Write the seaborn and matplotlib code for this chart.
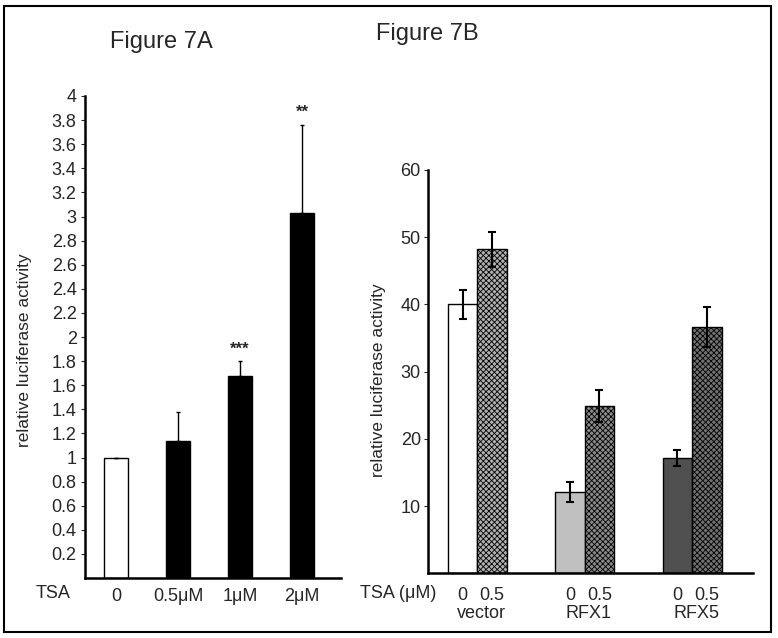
import numpy as np
import pandas as pd
import matplotlib
matplotlib.use("Agg")
import matplotlib.pyplot as plt
from matplotlib.patches import Rectangle
from matplotlib.transforms import ScaledTranslation
import seaborn as sns

# ---------------------------------------------------------------------------
# Data
# ---------------------------------------------------------------------------
# Figure 7A: TSA dose response
dose_labels = ["0", "0.5\u03bcM", "1\u03bcM", "2\u03bcM"]
dose_activity = [1.0, 1.14, 1.68, 3.03]
dose_err = [0.0, 0.24, 0.12, 0.73]
dose_stars = ["", "", "***", "**"]

# Figure 7B: vector / RFX1 / RFX5, with and without 0.5 uM TSA
constructs = ["vector", "RFX1", "RFX5"]
tsa_levels = ["0", "0.5"]
activity_tsa0 = [40.0, 12.1, 17.2]
activity_tsa05 = [48.2, 24.9, 36.6]
err_tsa0 = [2.1, 1.5, 1.2]
err_tsa05 = [2.6, 2.4, 3.0]

dfa = pd.DataFrame({"dose": dose_labels, "activity": dose_activity})
dfb = pd.DataFrame({
    "construct": constructs * 2,
    "tsa": [tsa_levels[0]] * 3 + [tsa_levels[1]] * 3,
    "activity": activity_tsa0 + activity_tsa05,
    "err": err_tsa0 + err_tsa05,
})

# styles
a_colors = ["white", "black", "black", "black"]
b_face = {("vector", "0"): "white", ("vector", "0.5"): "#b0b0b0",
          ("RFX1", "0"): "#c0c0c0", ("RFX1", "0.5"): "#8a8a8a",
          ("RFX5", "0"): "#505050", ("RFX5", "0.5"): "#727272"}

sns.set_style("white")
plt.rcParams["font.family"] = ["Liberation Sans", "DejaVu Sans"]
plt.rcParams["hatch.linewidth"] = 0.6
plt.rcParams["hatch.color"] = "#202020"

W, H = 778, 638
fig = plt.figure(figsize=(W / 100, H / 100), dpi=100)

# ---------------------------------------------------------------------------
# Panel A
# ---------------------------------------------------------------------------
axa = fig.add_axes([85 / W, 1 - 578 / H, 256 / W, 482 / H])
sns.barplot(data=dfa, x="dose", y="activity", order=dose_labels, ax=axa,
            width=0.4, errorbar=None, color="black", edgecolor="black", linewidth=1)
for bar, fc in zip(axa.containers[0], a_colors):
    bar.set_facecolor(fc)
xa = [b.get_x() + b.get_width() / 2 for b in axa.containers[0]]
axa.errorbar(xa, dose_activity, yerr=[np.zeros(len(dose_err)), dose_err],
             fmt="none", ecolor="black", elinewidth=1, capsize=1.2, capthick=1)
for x, v, e, s in zip(xa, dose_activity, dose_err, dose_stars):
    if s:
        axa.text(x, v + e + 0.04, s, ha="center", va="bottom", fontsize=12,
                 fontweight="bold")
yt_a = np.round(np.arange(0.2, 4.01, 0.2), 1)
axa.set_ylim(0, 4)
axa.set_xlim(-0.5, 3.63)
axa.set_yticks(yt_a)
axa.set_yticklabels([f"{t:g}" for t in yt_a])
axa.tick_params(axis="y", length=3, width=0.8, pad=3, labelsize=13, left=True)
axa.tick_params(axis="x", length=0, pad=7, labelsize=13)
axa.set_xlabel("")
axa.set_ylabel("relative luciferase activity", fontsize=12.5)
axa.yaxis.set_label_coords(-0.207, 0.473)
for sp in ["top", "right"]:
    axa.spines[sp].set_visible(False)
for sp in ["left", "bottom"]:
    axa.spines[sp].set_linewidth(1.8)
    axa.spines[sp].set_color("black")

# ---------------------------------------------------------------------------
# Panel B
# ---------------------------------------------------------------------------
axb = fig.add_axes([427.7 / W, 1 - 573.3 / H, 325 / W, 403.3 / H])
sns.barplot(data=dfb, x="construct", y="activity", hue="tsa", order=constructs,
            hue_order=tsa_levels, ax=axb, width=0.55, errorbar=None,
            edgecolor="black", linewidth=1, legend=False)
tick_pos, tick_lab = [], []
for lvl, cont in zip(tsa_levels, axb.containers):
    sub = dfb[dfb["tsa"] == lvl].set_index("construct").loc[constructs]
    xs = []
    for bar, c in zip(cont, constructs):
        bar.set_facecolor(b_face[(c, lvl)])
        bar.set_edgecolor("black")
        if lvl == "0.5":
            bar.set_hatch("xxxxxx")
        xs.append(bar.get_x() + bar.get_width() / 2)
    axb.errorbar(xs, sub["activity"], yerr=sub["err"], fmt="none", ecolor="black",
                 elinewidth=1.5, capsize=2.9, capthick=1.5)
    tick_pos += xs
    tick_lab += [lvl] * len(xs)
axb.set_xticks(tick_pos)
axb.set_xticklabels(tick_lab)
# labels in the original sit a few pixels right of the bar centres
nudge = ScaledTranslation(4 / 100, 0, fig.dpi_scale_trans)
for lab in axb.get_xticklabels():
    lab.set_transform(lab.get_transform() + nudge)
for i, c in enumerate(constructs):
    axb.text(i, -0.1, c, transform=axb.get_xaxis_transform() + nudge,
             ha="center", va="center", fontsize=13)
axb.set_ylim(0, 60)
axb.set_xlim(-0.462, 2.565)
axb.set_yticks([10, 20, 30, 40, 50, 60])
axb.tick_params(axis="y", length=3, width=0.8, pad=2, labelsize=13, left=True)
axb.tick_params(axis="x", length=0, pad=10, labelsize=13)
axb.set_xlabel("")
axb.set_ylabel("relative luciferase activity", fontsize=12.5)
axb.yaxis.set_label_coords(-0.128, 0.479)
for sp in ["top", "right"]:
    axb.spines[sp].set_visible(False)
for sp in ["left", "bottom"]:
    axb.spines[sp].set_linewidth(1.8)
    axb.spines[sp].set_color("black")

# ---------------------------------------------------------------------------
# Titles, row labels and frame
# ---------------------------------------------------------------------------
fig.text(161 / W, 1 - 42 / H, "Figure 7A", ha="center", va="center", fontsize=17)
fig.text(427 / W, 1 - 34 / H, "Figure 7B", ha="center", va="center", fontsize=17)
fig.text(53 / W, 1 - 593 / H, "TSA", ha="center", va="center", fontsize=13)
fig.text(398 / W, 1 - 593 / H, "TSA (\u03bcM)", ha="center", va="center", fontsize=13)
fig.add_artist(Rectangle((4 / W, 1 - 632 / H), 767 / W, 626 / H,
                         transform=fig.transFigure, fill=False, lw=1.5,
                         edgecolor="black"))

fig.savefig("out.png", dpi=100)
